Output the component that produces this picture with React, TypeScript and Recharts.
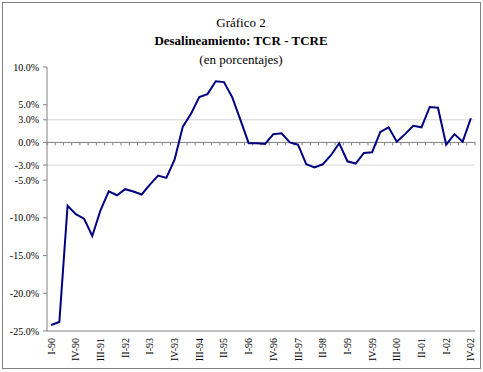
import { LineChart, Line, XAxis, YAxis, ReferenceLine } from "recharts";

const quarters = [
  "I-90", "II-90", "III-90", "IV-90",
  "I-91", "II-91", "III-91", "IV-91",
  "I-92", "II-92", "III-92", "IV-92",
  "I-93", "II-93", "III-93", "IV-93",
  "I-94", "II-94", "III-94", "IV-94",
  "I-95", "II-95", "III-95", "IV-95",
  "I-96", "II-96", "III-96", "IV-96",
  "I-97", "II-97", "III-97", "IV-97",
  "I-98", "II-98", "III-98", "IV-98",
  "I-99", "II-99", "III-99", "IV-99",
  "I-00", "II-00", "III-00", "IV-00",
  "I-01", "II-01", "III-01", "IV-01",
  "I-02", "II-02", "III-02", "IV-02",
];

// desalineamiento TCR - TCRE, en %
const desalineamiento = [
  -24.2, -23.8, -8.4, -9.5, -10.1, -12.4, -9.0, -6.5,
  -7.0, -6.2, -6.5, -6.9, -5.6, -4.4, -4.7, -2.3,
  2.1, 3.8, 6.0, 6.4, 8.1, 8.0, 6.0, 3.0,
  -0.1, -0.1, -0.2, 1.1, 1.2, 0.0, -0.3, -2.9,
  -3.3, -2.9, -1.7, -0.1, -2.5, -2.8, -1.4, -1.3,
  1.4, 2.0, 0.1, 1.1, 2.2, 2.0, 4.7, 4.6,
  -0.3, 1.1, 0.1, 3.2,
];

const yTicks = [10, 5, 3, 0, -3, -5, -10, -15, -20, -25];

const data = quarters.map((q, i) => ({ q, v: desalineamiento[i] }));

const FONT = "'Liberation Serif', 'Times New Roman', serif";

function QuarterTick({ x, y, payload }: any) {
  return (
    <text
      x={x}
      y={y}
      transform={`rotate(-90, ${x}, ${y})`}
      textAnchor="end"
      dy="0.35em"
      style={{ fontSize: 10, fontFamily: FONT }}
      fill="#000"
    >
      {payload.value}
    </text>
  );
}

// zero line doubles as the category axis: tick marks between quarters
function ZeroAxis(props: any) {
  const { x1, x2, y1 } = props;
  const n = data.length;
  const step = (x2 - x1) / n;
  return (
    <g>
      <line x1={x1} x2={x2} y1={y1} y2={y1} stroke="#808080" strokeWidth={1} />
      {Array.from({ length: n + 1 }, (_, k) => (
        <line
          key={k}
          x1={x1 + k * step}
          x2={x1 + k * step}
          y1={y1}
          y2={y1 + 3}
          stroke="#808080"
          strokeWidth={1}
        />
      ))}
    </g>
  );
}

export default function App() {
  return (
    <div style={{ position: "relative", width: 483, height: 372, background: "#fff", fontFamily: FONT }}>
      <style>{"body{margin:0}"}</style>
      <div
        style={{
          position: "absolute",
          left: 2,
          top: 2,
          width: 477,
          height: 365,
          border: "1px solid #808080",
        }}
      />
      <svg
        width={483}
        height={80}
        style={{ position: "absolute", left: 0, top: 0, pointerEvents: "none" }}
      >
        <text x={241} y={27} textAnchor="middle" style={{ fontSize: 13, fontFamily: FONT }}>
          Gráfico 2
        </text>
        <text x={241} y={45} textAnchor="middle" style={{ fontSize: 13, fontWeight: "bold", fontFamily: FONT }}>
          Desalineamiento: TCR - TCRE
        </text>
        <text x={241} y={63.5} textAnchor="middle" style={{ fontSize: 13, fontFamily: FONT }}>
          (en porcentajes)
        </text>
      </svg>
      <div style={{ position: "absolute", left: 0, top: 0 }}>
        <LineChart
          width={483}
          height={372}
          data={data}
          margin={{ top: 67, right: 8, bottom: 6, left: 0 }}
          style={{ fontFamily: FONT }}
        >
          <XAxis
            dataKey="q"
            scale="band"
            interval={2}
            height={35}
            tickLine={false}
            tickSize={0}
            tickMargin={7}
            axisLine={{ stroke: "#808080" }}
            tick={<QuarterTick />}
          />
          <YAxis
            domain={[-25, 10]}
            ticks={yTicks}
            width={47}
            tickSize={4}
            tickMargin={4}
            tickLine={{ stroke: "#808080" }}
            axisLine={{ stroke: "#808080" }}
            tickFormatter={(v: number) => `${v.toFixed(1)}%`}
            tick={{ fontSize: 10, fontFamily: FONT, fill: "#000" }}
            interval={0}
          />
          <ReferenceLine y={3} stroke="#d4d4d4" strokeWidth={1} />
          <ReferenceLine y={-3} stroke="#d4d4d4" strokeWidth={1} />
          <ReferenceLine y={0} shape={<ZeroAxis />} />
          <Line
            type="linear"
            dataKey="v"
            stroke="#000080"
            strokeWidth={2}
            dot={false}
            isAnimationActive={false}
          />
        </LineChart>
      </div>
    </div>
  );
}
